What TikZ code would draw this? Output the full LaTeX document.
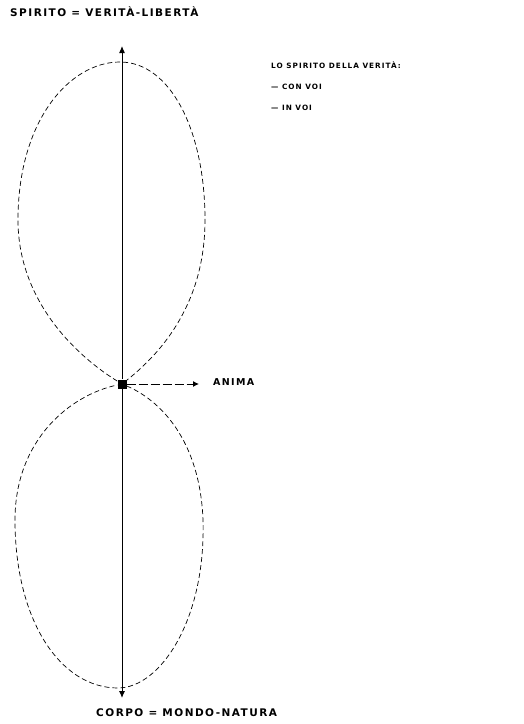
\documentclass[tikz,border=0pt]{standalone}
\usepackage{fontspec}
\usetikzlibrary{arrows.meta}
\newfontfamily\lettr[LetterSpace=14]{DejaVu Sans}
\tikzset{
  lbl/.style={inner sep=0pt, font=\lettr\bfseries\fontsize{10.5}{12}\selectfont},
  small/.style={inner sep=0pt, align=left, font=\lettr\bfseries\fontsize{7.3}{21}\selectfont},
  loop/.style={line width=0.7pt, dash pattern=on 5pt off 3pt},
  axis/.style={line width=1pt, -{Latex[length=7pt,width=6pt]}},
}
\begin{document}
\begin{tikzpicture}[x=1pt,y=-1pt]
\useasboundingbox (0,0) rectangle (524,724);
\node[fill=black, minimum size=9pt, inner sep=0pt] (c) at (122,384) {};
\coordinate (t) at (122,46);
\coordinate (b) at (122,698);
\draw[axis] (c) -- (t);
\draw[axis] (c) -- (b);
\node[lbl, anchor=west] (spirito) at (10,12) {SPIRITO = VERITÀ-LIBERTÀ};
\node[lbl, anchor=west] (corpo) at (96,713) {CORPO = MONDO-NATURA};
\node[lbl, anchor=west, font=\lettr\bfseries\fontsize{9.5}{11}\selectfont] (anima) at (213,382) {ANIMA};
\coordinate (aend) at (199,384);
\draw[line width=1pt, dash pattern=on 9pt off 3pt, -{Latex[length=6pt,width=6pt]}] (c) -- (aend);
\node[small, anchor=north west] (txt) at (271,62) {LO SPIRITO DELLA VERITÀ:\\— CON VOI\\— IN VOI};
\draw[loop] (c) .. controls (75,355) and (18,300) .. (18,220)
  .. controls (18,120) and (70,62) .. (120,62)
  .. controls (170,62) and (205,130) .. (205,220)
  .. controls (205,300) and (165,350) .. (c);
\draw[loop] (c) .. controls (160,400) and (200,440) .. (203,520)
  .. controls (206,620) and (160,688) .. (118,688)
  .. controls (60,688) and (15,620) .. (15,520)
  .. controls (15,440) and (70,395) .. (c);
\end{tikzpicture}
\end{document}
